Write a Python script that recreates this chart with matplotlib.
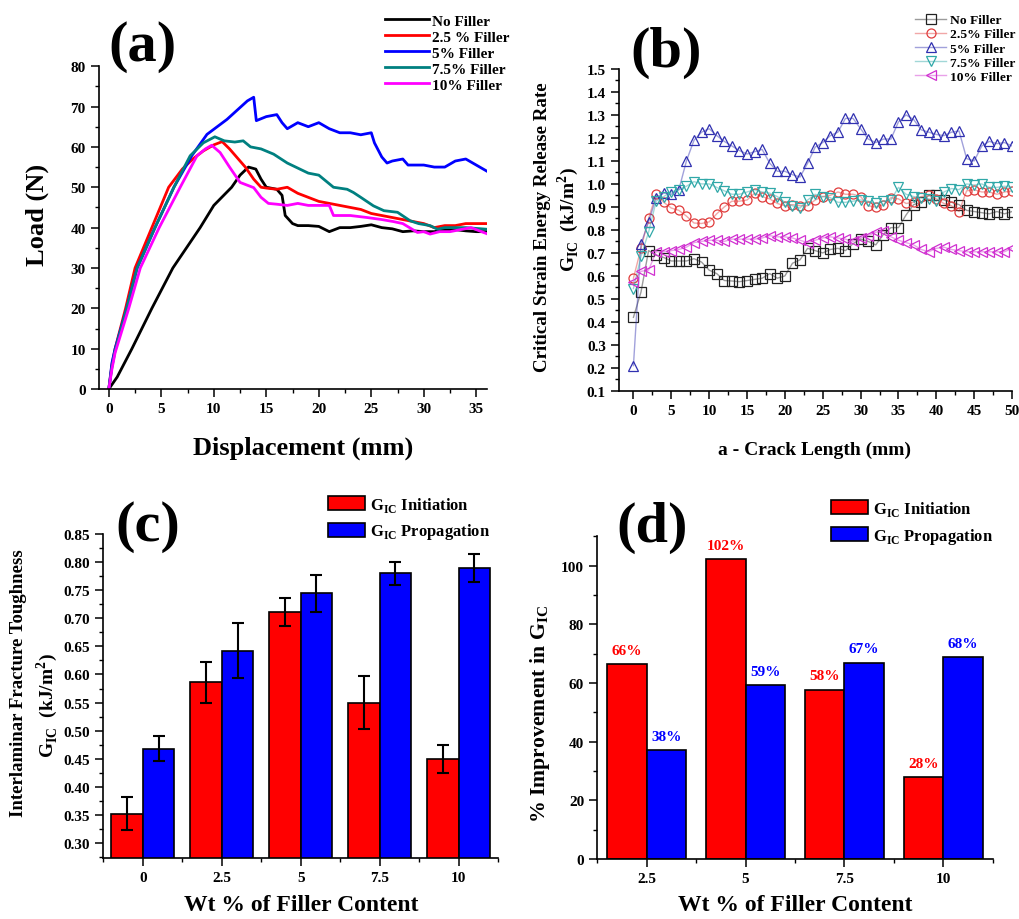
import matplotlib
matplotlib.use("Agg")
import matplotlib.pyplot as plt
from matplotlib.ticker import MultipleLocator
import numpy as np

plt.rcParams["font.family"] = ["Liberation Serif", "DejaVu Serif"]
plt.rcParams["font.weight"] = "bold"
plt.rcParams["mathtext.fontset"] = "custom"
plt.rcParams["mathtext.rm"] = "Liberation Serif:bold"
plt.rcParams["mathtext.bf"] = "Liberation Serif:bold"
plt.rcParams["axes.linewidth"] = 1.2

# ---- (a) load vs displacement ----
disp_none = [0, 0.8, 2.2, 4.1, 6.1, 8.7, 10, 11.7, 12.5, 13.3, 14, 14.5, 15, 16, 16.5, 16.8, 17.5, 18, 19, 20,
             21, 22, 23, 24, 25, 26, 27, 28, 29, 30, 31, 32, 33, 34, 35, 36]
load_none = [0, 3, 10, 20, 30, 40, 45.5, 50, 53, 55, 54.5, 52, 50, 49.5, 48, 43, 41, 40.5, 40.5, 40.3,
             39, 40, 40, 40.3, 40.7, 40, 39.7, 39, 39.2, 39, 39, 39.5, 39.5, 39.2, 39, 39]
disp_25 = [0, 0.3, 0.6, 1.6, 2.5, 4.1, 5.7, 7, 8, 9, 10, 10.8, 11.5, 12, 13, 13.8, 14.5, 15, 16, 17, 18, 19,
           20, 21, 22, 23, 24, 25, 26, 27, 28, 29, 30, 31, 32, 33, 34, 35, 36]
load_25 = [0, 6, 10, 20, 30, 40, 50, 54.5, 57, 59, 60.5, 61.3, 59.5, 58, 55, 52, 50, 49.8, 49.5, 50, 48.5, 47.5,
           46.5, 46, 45.5, 45, 44.5, 43.5, 43, 42.5, 42, 41.5, 41, 40, 40.5, 40.5, 41, 41, 41]
disp_5 = [0, 0.3, 0.6, 1.7, 2.7, 4.4, 6.2, 7.9, 9.35, 11.25, 13.2, 13.8, 14.05, 15, 16, 16.5, 17, 18, 19, 20,
          21, 22, 23, 24, 25, 25.3, 26, 26.5, 27, 28, 28.5, 29, 30, 31, 32, 33, 34, 35, 36]
load_5 = [0, 6.5, 10, 20, 30, 40, 50, 57.8, 63.1, 66.8, 71.4, 72.3, 66.5, 67.5, 68, 66, 64.5, 66, 65, 66,
          64.5, 63.5, 63.5, 63, 63.5, 61, 57.5, 56, 56.5, 57, 55.5, 55.5, 55.5, 55, 55, 56.5, 57, 55.5, 54]
disp_75 = [0, 0.3, 0.6, 1.7, 2.7, 4.4, 6.2, 7.75, 9, 10.1, 11, 12, 12.8, 13.5, 14.5, 15.7, 17, 18.2, 19, 20,
           21.4, 22.7, 23.3, 24, 25.2, 26.2, 27.5, 28.7, 29.5, 30.6, 31.3, 32, 33, 34, 35, 36]
load_75 = [0, 5.5, 9.5, 20, 30, 40, 50, 57.8, 61, 62.5, 61.5, 61.2, 61.5, 60, 59.5, 58.2, 56, 54.5, 53.5, 53,
           50, 49.5, 48.7, 47.5, 45.4, 44.2, 43.8, 41.7, 41, 40.5, 39.6, 40, 40, 40, 39.8, 39.6]
disp_10 = [0, 0.3, 0.6, 1.9, 3.0, 4.8, 6.8, 8.4, 9.2, 9.8, 10.6, 11.5, 12.5, 13.8, 14.5, 15.2, 16, 17, 18, 19,
           20, 21, 21.4, 22, 23, 24.6, 26, 27.1, 28, 29.4, 30, 30.6, 31.5, 32.5, 33.5, 34.5, 35.5, 36]
load_10 = [0, 5, 9, 20, 30, 40, 50, 57.8, 59.5, 60.4, 58.6, 55, 51.2, 49.9, 47.5, 46, 45.8, 45.5, 46, 45.5,
           45.5, 45.5, 43, 43, 43, 42.5, 42, 41.5, 41, 38.8, 39, 38.4, 39, 39, 39.5, 40, 39, 38.5]

# ---- (b) G_IC vs crack length (0..50 mm, 1 mm steps) ----
crack = list(range(51))
g_none = [0.42, 0.53, 0.71, 0.69, 0.68, 0.665, 0.665, 0.665, 0.675, 0.66, 0.625, 0.61, 0.58, 0.578, 0.575,
          0.58, 0.585, 0.59, 0.61, 0.59, 0.60, 0.655, 0.67, 0.72, 0.71, 0.70, 0.715, 0.72, 0.71, 0.74, 0.76,
          0.75, 0.735, 0.78, 0.81, 0.81, 0.865, 0.91, 0.92, 0.95, 0.95, 0.93, 0.92, 0.91, 0.885, 0.88, 0.875,
          0.87, 0.88, 0.87, 0.88]
g_25 = [0.59, 0.72, 0.85, 0.955, 0.92, 0.895, 0.885, 0.86, 0.83, 0.828, 0.835, 0.87, 0.90, 0.925, 0.925,
        0.93, 0.96, 0.945, 0.935, 0.915, 0.905, 0.91, 0.905, 0.905, 0.93, 0.945, 0.95, 0.965, 0.955, 0.955,
        0.945, 0.905, 0.90, 0.91, 0.94, 0.935, 0.915, 0.92, 0.945, 0.95, 0.935, 0.915, 0.905, 0.88, 0.97,
        0.975, 0.965, 0.965, 0.955, 0.965, 0.97]
g_5 = [0.21, 0.74, 0.835, 0.94, 0.96, 0.955, 0.975, 1.10, 1.19, 1.225, 1.24, 1.21, 1.185, 1.165, 1.145,
       1.13, 1.14, 1.15, 1.09, 1.055, 1.055, 1.04, 1.03, 1.09, 1.16, 1.18, 1.21, 1.225, 1.285, 1.285, 1.24,
       1.195, 1.18, 1.195, 1.195, 1.27, 1.30, 1.28, 1.235, 1.225, 1.215, 1.21, 1.225, 1.23, 1.11, 1.10,
       1.165, 1.185, 1.175, 1.18, 1.165]
g_75 = [0.545, 0.685, 0.79, 0.925, 0.945, 0.965, 0.975, 0.99, 1.01, 1.0, 1.0, 0.985, 0.97, 0.955, 0.955,
        0.965, 0.975, 0.965, 0.96, 0.945, 0.92, 0.905, 0.895, 0.93, 0.955, 0.945, 0.94, 0.92, 0.92, 0.925,
        0.93, 0.925, 0.915, 0.925, 0.93, 0.985, 0.955, 0.945, 0.94, 0.935, 0.925, 0.965, 0.98, 0.975, 1.0,
        0.995, 1.0, 0.985, 0.985, 0.99, 0.985]
g_10 = [0.575, 0.62, 0.625, 0.705, 0.705, 0.71, 0.715, 0.725, 0.745, 0.75, 0.755, 0.755, 0.75, 0.76, 0.76,
        0.76, 0.76, 0.765, 0.775, 0.77, 0.77, 0.765, 0.755, 0.745, 0.755, 0.765, 0.77, 0.765, 0.76, 0.75,
        0.765, 0.775, 0.79, 0.795, 0.77, 0.755, 0.745, 0.735, 0.715, 0.705, 0.72, 0.725, 0.715, 0.71, 0.705,
        0.705, 0.705, 0.705, 0.705, 0.705, 0.72]

# ---- (c) fracture toughness bars ----
filler_c = ["0", "2.5", "5", "7.5", "10"]
init_mean = [0.352, 0.586, 0.712, 0.550, 0.450]
init_err = [0.029, 0.037, 0.025, 0.047, 0.025]
prop_mean = [0.468, 0.642, 0.745, 0.780, 0.790]
prop_err = [0.023, 0.049, 0.033, 0.020, 0.025]

# ---- (d) improvement bars ----
filler_d = ["2.5", "5", "7.5", "10"]
init_impr = [66.4, 102.3, 57.7, 27.8]
prop_impr = [37.1, 59.2, 66.9, 68.8]
init_lbl = ["66%", "102%", "58%", "28%"]
prop_lbl = ["38%", "59%", "67%", "68%"]

RED, BLUE = "#ff0000", "#0000ff"
TICK_FS = 11


def style(ax):
    ax.spines["top"].set_visible(False)
    ax.spines["right"].set_visible(False)
    ax.tick_params(which="major", direction="out", length=6, width=1.1, labelsize=TICK_FS)
    ax.tick_params(which="minor", direction="out", length=3, width=1.0)
    for lab in ax.get_xticklabels() + ax.get_yticklabels():
        lab.set_fontweight("bold")


fig = plt.figure(figsize=(10.19, 9.2), dpi=100)

# (a)
ax = fig.add_axes([0.0972, 0.576, 0.3805, 0.351])
curves = [(disp_none, load_none, "black", "No Filler"),
          (disp_25, load_25, RED, "2.5 % Filler"),
          (disp_5, load_5, BLUE, "5% Filler"),
          (disp_75, load_75, "#008080", "7.5% Filler"),
          (disp_10, load_10, "#ff00ff", "10% Filler")]
for x, y, c, lab in curves:
    ax.plot(x, y, color=c, lw=2.0, label=lab)
ax.set_xlim(-0.93, 36)
ax.set_ylim(0, 80)
ax.xaxis.set_major_locator(MultipleLocator(5))
ax.xaxis.set_minor_locator(MultipleLocator(2.5))
ax.yaxis.set_major_locator(MultipleLocator(10))
ax.yaxis.set_minor_locator(MultipleLocator(5))
style(ax)
ax.legend(loc="upper left", bbox_to_anchor=(0.3778, 0.9837), bbox_transform=fig.transFigure,
          frameon=False, fontsize=11, handlelength=2.9, handletextpad=0.15, labelspacing=0.15,
          borderpad=0, borderaxespad=0)
fig.text(0.0363, 0.7663, "Load (N)", rotation=90, ha="center", va="center", fontsize=19)
fig.text(0.2974, 0.5130, "Displacement (mm)", ha="center", va="center", fontsize=19)
fig.text(0.1403, 0.9489, "(a)", ha="center", va="center", fontsize=42)

# (b)
ax = fig.add_axes([0.6075, 0.574, 0.3857, 0.35])
series_b = [(g_none, "#222222", "s", "No Filler"),
            (g_25, "#e03c3c", "o", "2.5% Filler"),
            (g_5, "#3030b0", "^", "5% Filler"),
            (g_75, "#30a8a8", "v", "7.5% Filler"),
            (g_10, "#d030d0", "<", "10% Filler")]
for y, c, m, lab in series_b:
    line_c = matplotlib.colors.to_rgba(c, 0.45)
    ax.plot(crack, y, color=line_c, lw=1.0, marker=m, markersize=6.5, markerfacecolor="none",
            markeredgecolor=c, markeredgewidth=0.9, label=lab)
ax.set_xlim(-1.9, 50)
ax.set_ylim(0.1, 1.5)
ax.xaxis.set_major_locator(MultipleLocator(5))
ax.xaxis.set_minor_locator(MultipleLocator(2.5))
ax.yaxis.set_major_locator(MultipleLocator(0.1))
ax.yaxis.set_minor_locator(MultipleLocator(0.05))
style(ax)
ax.legend(loc="upper left", bbox_to_anchor=(0.898, 0.9837), bbox_transform=fig.transFigure,
          frameon=False, fontsize=9.7, handlelength=2.3, handletextpad=0.3, labelspacing=0.12,
          borderpad=0, borderaxespad=0)
fig.text(0.5319, 0.7533, "Critical Strain Energy Release Rate", rotation=90, ha="center", va="center",
         fontsize=13.7)
fig.text(0.5574, 0.7609, r"G$_{\mathbf{IC}}$  (kJ/m$^{\mathbf{2}}$)", rotation=90, ha="center",
         va="center", fontsize=14)
fig.text(0.7998, 0.5109, "a - Crack Length (mm)", ha="center", va="center", fontsize=14)
fig.text(0.6536, 0.9424, "(b)", ha="center", va="center", fontsize=42)

# (c)
ax = fig.add_axes([0.1014, 0.0663, 0.3873, 0.352])
xc = np.arange(len(filler_c))
w = 0.4
ax.bar(xc - w / 2, init_mean, w, yerr=init_err, color=RED, edgecolor="black", lw=1.2,
       capsize=4, error_kw=dict(lw=1.5, capthick=1.5), label=r"G$_{\mathbf{IC}}$ Initiation")
ax.bar(xc + w / 2, prop_mean, w, yerr=prop_err, color=BLUE, edgecolor="black", lw=1.2,
       capsize=4, error_kw=dict(lw=1.5, capthick=1.5), label=r"G$_{\mathbf{IC}}$ Propagation")
ax.set_xlim(-0.5, len(filler_c) - 0.5)
ax.set_ylim(0.273, 0.85)
ax.set_xticks(xc)
ax.set_xticklabels(filler_c)
ax.set_xticks(np.arange(-0.5, len(filler_c)), minor=True)
ax.yaxis.set_major_locator(MultipleLocator(0.05))
ax.yaxis.set_minor_locator(MultipleLocator(0.025))
ax.yaxis.set_major_formatter(matplotlib.ticker.FormatStrFormatter("%.2f"))
style(ax)
ax.legend(loc="upper left", bbox_to_anchor=(0.3219, 0.4609), bbox_transform=fig.transFigure,
          frameon=False, fontsize=12, handlelength=2.2, handleheight=0.9, handletextpad=0.3,
          labelspacing=0.45, borderpad=0, borderaxespad=0)
fig.text(0.0177, 0.2576, "Interlaminar Fracture Toughness", rotation=90, ha="center", va="center",
         fontsize=13.5)
fig.text(0.0461, 0.2326, r"G$_{\mathbf{IC}}$  (kJ/m$^{\mathbf{2}}$)", rotation=90, ha="center",
         va="center", fontsize=14)
fig.text(0.2954, 0.0155, "Wt % of Filler Content", ha="center", va="center", fontsize=17)
fig.text(0.1452, 0.4272, "(c)", ha="center", va="center", fontsize=42)

# (d)
ax = fig.add_axes([0.5862, 0.0652, 0.388, 0.3508])
xd = np.arange(len(filler_d))
ax.bar(xd - w / 2, init_impr, w, color=RED, edgecolor="black", lw=1.2, label=r"G$_{\mathbf{IC}}$ Initiation")
ax.bar(xd + w / 2, prop_impr, w, color=BLUE, edgecolor="black", lw=1.2, label=r"G$_{\mathbf{IC}}$ Propagation")
for i in range(len(filler_d)):
    ax.text(xd[i] - w / 2, init_impr[i] + 2.5, init_lbl[i], color=RED, ha="center", va="bottom", fontsize=11)
    ax.text(xd[i] + w / 2, prop_impr[i] + 2.5, prop_lbl[i], color=BLUE, ha="center", va="bottom", fontsize=11)
ax.set_xlim(-0.5, len(filler_d) - 0.5)
ax.set_ylim(0, 110)
ax.set_xticks(xd)
ax.set_xticklabels(filler_d)
ax.set_xticks(np.arange(-0.5, len(filler_d)), minor=True)
ax.yaxis.set_major_locator(MultipleLocator(20))
ax.yaxis.set_minor_locator(MultipleLocator(10))
style(ax)
ax.legend(loc="upper left", bbox_to_anchor=(0.8155, 0.4565), bbox_transform=fig.transFigure,
          frameon=False, fontsize=12, handlelength=2.2, handleheight=0.9, handletextpad=0.3,
          labelspacing=0.45, borderpad=0, borderaxespad=0)
fig.text(0.5299, 0.2239, r"% Improvement in G$_{\mathbf{IC}}$", rotation=90, ha="center", va="center",
         fontsize=15.7)
fig.text(0.7802, 0.0155, "Wt % of Filler Content", ha="center", va="center", fontsize=17)
fig.text(0.6398, 0.4261, "(d)", ha="center", va="center", fontsize=42)

fig.savefig("out.png", dpi=100)
